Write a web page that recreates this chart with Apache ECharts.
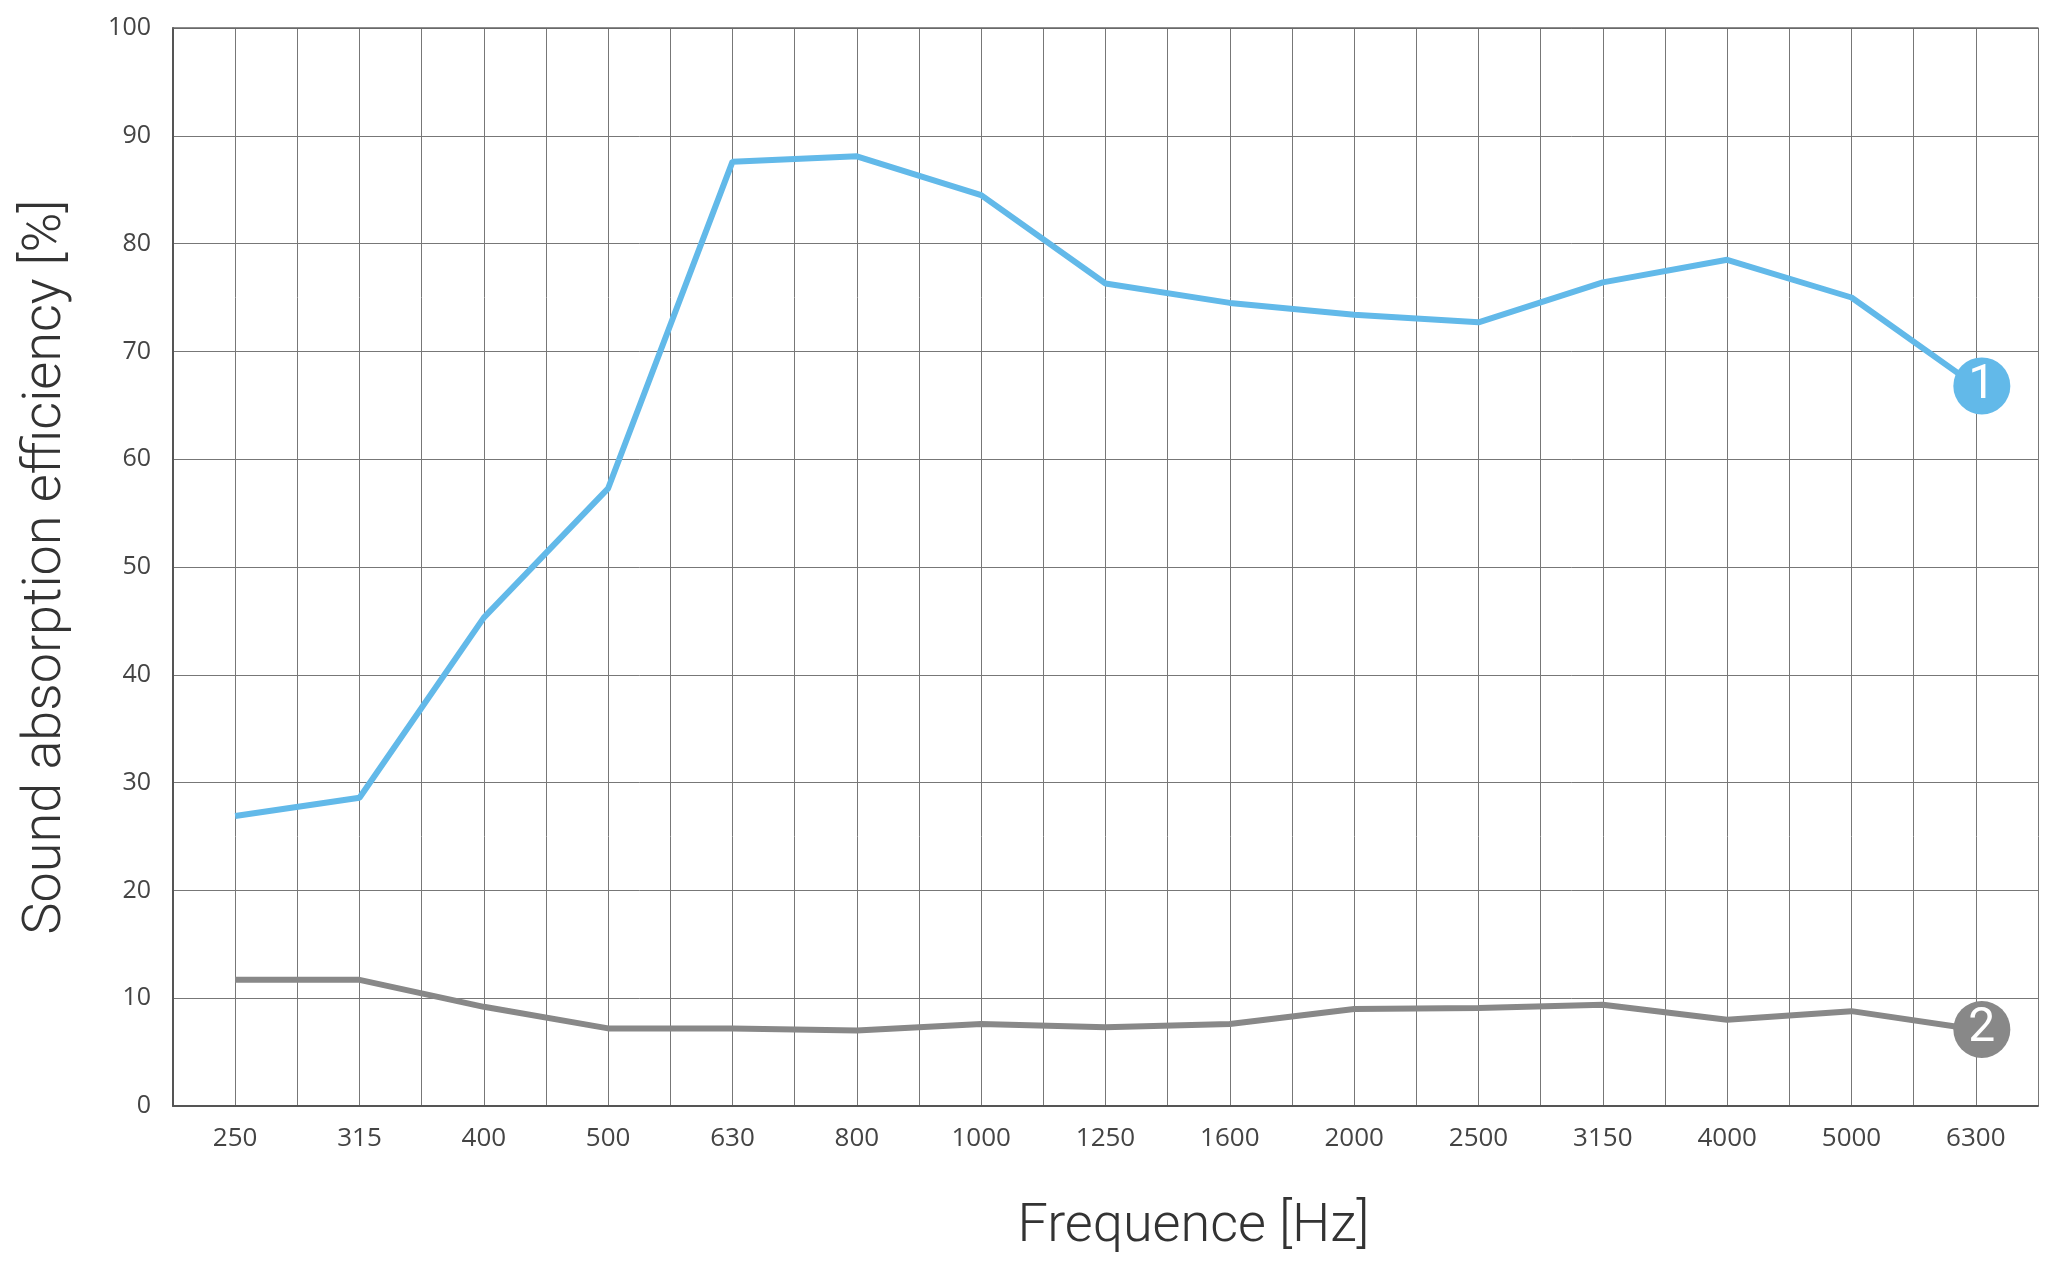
<!DOCTYPE html>
<html>
<head>
<meta charset="utf-8">
<script src="https://cdn.jsdelivr.net/npm/echarts@6/dist/echarts.min.js"></script>
<style>html,body{margin:0;padding:0;background:#fff}#c{width:2060px;height:1265px}</style>
</head>
<body>
<div id="c"></div>
<script>
const frequencies = ['250','315','400','500','630','800','1000','1250','1600','2000','2500','3150','4000','5000','6300'];
const series1 = [26.9, 28.6, 45.3, 57.3, 87.6, 88.1, 84.5, 76.3, 74.5, 73.4, 72.7, 76.4, 78.5, 75.0, 66.8];
const series2 = [11.7, 11.7, 9.2, 7.2, 7.2, 7.0, 7.6, 7.3, 7.6, 9.0, 9.1, 9.4, 8.0, 8.8, 7.1];
const seriesNames = ['1', '2'];
const halfSteps = Array.from({length: frequencies.length * 2}, () => '');

const blue = '#62b9e9';
const gray = '#888888';

function withEndBadge(values, label, color) {
  return values.map((v, i) => i === values.length - 1 ? {
    value: v,
    symbol: 'circle',
    symbolSize: 57,
    symbolOffset: [6, 0],
    itemStyle: { color: color },
    label: {
      show: true, position: 'inside', formatter: label,
      color: '#fff', fontSize: 48, fontFamily: 'Roboto', fontWeight: 'normal'
    }
  } : v);
}

const chart = echarts.init(document.getElementById('c'), null, { renderer: 'canvas' });
chart.setOption({
  animation: false,
  backgroundColor: '#fff',
  grid: { left: 173, right: 22, top: 28, bottom: 159 },
  xAxis: [{
    type: 'category',
    data: frequencies,
    boundaryGap: true,
    axisLine: { show: true, lineStyle: { color: '#555', width: 2 } },
    axisTick: { show: false },
    splitLine: { show: false },
    axisLabel: { color: '#444', fontSize: 26, fontFamily: '"Liberation Sans Narrow", "Open Sans", sans-serif', margin: 20 },
    name: 'Frequence [Hz]',
    nameLocation: 'middle',
    nameGap: 94,
    nameTextStyle: { color: '#333', fontSize: 54, fontFamily: 'Roboto', fontWeight: 300, padding: [0, 0, 0, 176] }
  }, {
    type: 'category',
    data: halfSteps,
    position: 'top',
    boundaryGap: true,
    axisLine: { show: true, lineStyle: { color: '#666', width: 1.5 } },
    axisTick: { show: false },
    axisLabel: { show: false },
    splitLine: { show: true, lineStyle: { color: '#777', width: 1 } }
  }],
  yAxis: {
    type: 'value',
    min: 0, max: 100, interval: 10,
    axisLine: { show: true, lineStyle: { color: '#555', width: 2 } },
    axisTick: { show: false },
    splitLine: { show: true, lineStyle: { color: '#777', width: 1 } },
    axisLabel: { color: '#444', fontSize: 25, fontFamily: '"Open Sans", sans-serif', margin: 22 },
    name: 'Sound absorption efficiency [%]',
    nameLocation: 'middle',
    nameGap: 100,
    nameTextStyle: { color: '#333', fontSize: 54, fontFamily: 'Roboto', fontWeight: 300 }
  },
  series: [{
    name: seriesNames[0],
    type: 'line',
    data: withEndBadge(series1, seriesNames[0], blue),
    symbol: 'circle',
    symbolSize: 0,
    showSymbol: true,
    showAllSymbol: true,
    lineStyle: { color: blue, width: 6 },
    itemStyle: { color: blue },
    z: 3
  }, {
    name: seriesNames[1],
    type: 'line',
    data: withEndBadge(series2, seriesNames[1], gray),
    symbol: 'circle',
    symbolSize: 0,
    showSymbol: true,
    showAllSymbol: true,
    lineStyle: { color: gray, width: 6 },
    itemStyle: { color: gray },
    z: 3
  }]
});
</script>
</body>
</html>
